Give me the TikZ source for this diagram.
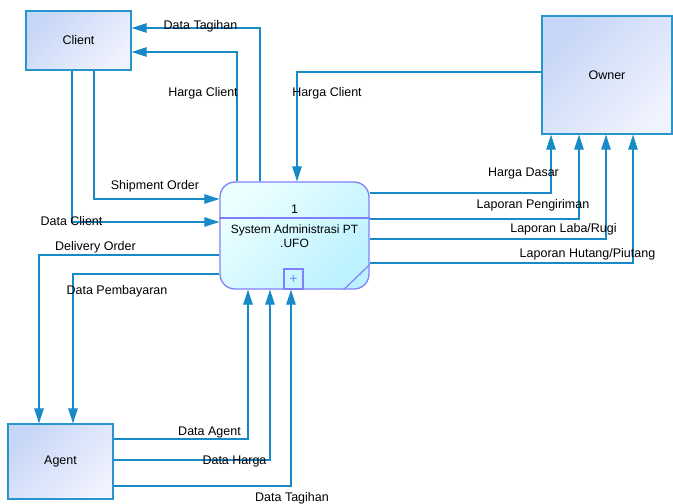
\documentclass[tikz,border=0pt]{standalone}
\usepackage{fontspec}
\setmainfont{Liberation Sans}
\usetikzlibrary{arrows.meta}
\definecolor{flowblue}{RGB}{24,138,200}
\definecolor{entborder}{RGB}{40,150,205}
\definecolor{entdark}{RGB}{198,214,246}
\definecolor{entlight}{RGB}{240,242,254}
\definecolor{procborder}{RGB}{128,128,255}
\definecolor{proclight}{RGB}{236,255,255}
\definecolor{procdark}{RGB}{188,242,255}
\tikzset{%
entity/.style={draw=entborder, line width=1.3pt, top color=entdark, bottom color=entlight, shading angle=45, inner sep=0pt, font=\fontsize{12.5}{14}\selectfont},
process/.style={draw=procborder, line width=1.3pt, rounded corners=15pt, top color=proclight, bottom color=procdark, shading angle=45, inner sep=0pt},
procline/.style={draw=procborder, line width=1.2pt},
flow/.style={draw=flowblue, line width=1.2pt, -{Triangle[length=15pt,width=9.5pt]}},
flowlabel/.style={inner sep=0pt, yshift=-1pt, font=\fontsize{12.5}{14}\selectfont}
}
\begin{document}
\begin{tikzpicture}[x=1pt, y=-1pt]
	\useasboundingbox (0,0) rectangle (673,504);
	% entities and process
	\node[entity, minimum width=105pt, minimum height=59pt] (client) at (78.5,40.5) {Client};
	\node[entity, minimum width=130pt, minimum height=118pt] (owner) at (607,75) {Owner};
	\node[entity, minimum width=105pt, minimum height=75pt] (agent) at (60.5,461.5) {Agent};
	\node[process, minimum width=149pt, minimum height=107pt] (proc) at (294.5,235.5) {};
	\node[flowlabel] (procid) at (294.5,208) {1};
	\node[flowlabel, align=center, font=\fontsize{12}{14}\selectfont] (proctext) at (294.5,235) {System Administrasi PT\\.UFO};
	\node[draw=procborder, line width=1.1pt, minimum width=19pt, minimum height=20pt, inner sep=0pt, font=\fontsize{14}{14}\selectfont, text=procborder] (procplus) at (293.5,279) {+};
	\path[procline] ([yshift=17.5pt]proc.west) -- ([yshift=17.5pt]proc.east);
	\path[procline] ([xshift=-26pt]proc.south east) -- ([yshift=25pt]proc.south east);

	% flows with client
	\path[flow] ([xshift=-34.5pt]proc.north) |- ([yshift=12.5pt]client.east);
	\path[flow] ([xshift=-57.5pt]proc.north) |- ([yshift=-11.5pt]client.east);
	\path[flow] ([xshift=15.5pt]client.south) |- ([yshift=36.5pt]proc.west);
	\path[flow] ([xshift=-6.5pt]client.south) |- ([yshift=13.5pt]proc.west);

	% flows with owner
	\path[flow] ([yshift=3pt]owner.west) -| ([xshift=2.5pt]proc.north);
	\path[flow] ([yshift=42.5pt]proc.east) -| ([xshift=-56pt]owner.south);
	\path[flow] ([yshift=16.5pt]proc.east) -| ([xshift=-28pt]owner.south);
	\path[flow] ([yshift=-3.5pt]proc.east) -| ([xshift=-1pt]owner.south);
	\path[flow] ([yshift=-27.5pt]proc.east) -| ([xshift=26pt]owner.south);

	% flows with agent
	\path[flow] ([yshift=-19.5pt]proc.west) -| ([xshift=-21.5pt]agent.north);
	\path[flow] ([yshift=-38.5pt]proc.west) -| ([xshift=12.5pt]agent.north);
	\path[flow] ([yshift=22.5pt]agent.east) -| ([xshift=-46.5pt]proc.south);
	\path[flow] ([yshift=1.5pt]agent.east) -| ([xshift=-24.5pt]proc.south);
	\path[flow] ([yshift=-24.5pt]agent.east) -| ([xshift=-3.5pt]proc.south);

	% labels
	\node[flowlabel] (lbltagihanc) at (200.5,25) {Data Tagihan};
	\node[flowlabel] (lblhargac) at (203,92) {Harga Client};
	\node[flowlabel] (lblhargao) at (327,92) {Harga Client};
	\node[flowlabel] (lblship) at (155,185) {Shipment Order};
	\node[flowlabel] (lbldatac) at (71.5,220) {Data Client};
	\node[flowlabel] (lbldeliv) at (95.5,246) {Delivery Order};
	\node[flowlabel] (lblbayar) at (117,290) {Data Pembayaran};
	\node[flowlabel] (lblagent) at (209.5,431) {Data Agent};
	\node[flowlabel] (lblharga) at (234.5,460) {Data Harga};
	\node[flowlabel] (lbltagihana) at (292,497) {Data Tagihan};
	\node[flowlabel] (lbldasar) at (523.5,172) {Harga Dasar};
	\node[flowlabel] (lblkirim) at (533,204) {Laporan Pengiriman};
	\node[flowlabel] (lbllaba) at (563.5,228) {Laporan Laba/Rugi};
	\node[flowlabel] (lblhutang) at (587.5,253) {Laporan Hutang/Piutang};
\end{tikzpicture}
\end{document}
